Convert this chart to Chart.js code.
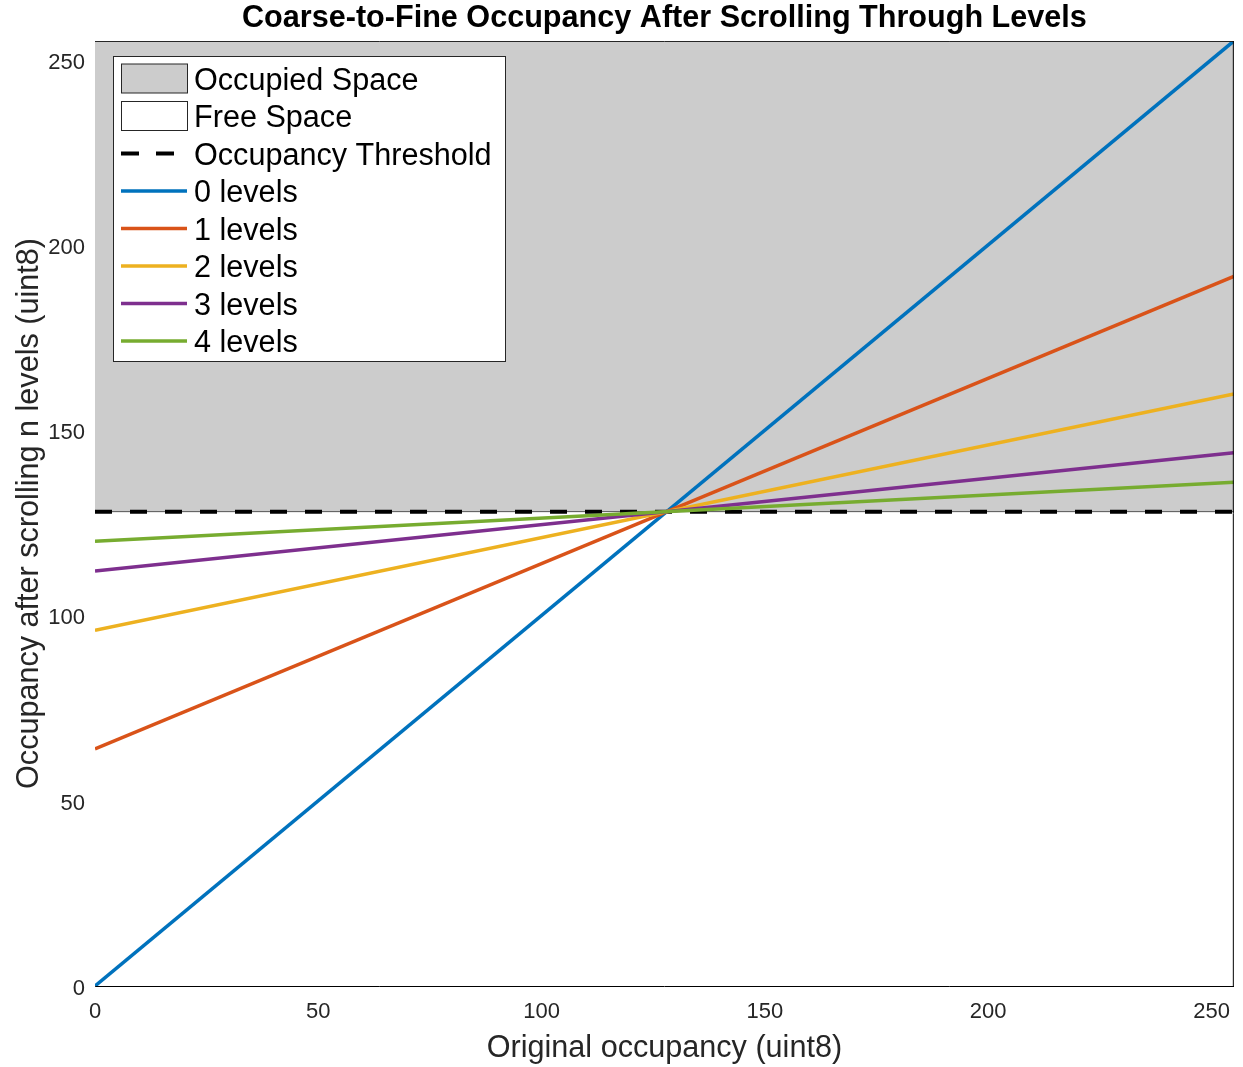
<!DOCTYPE html>
<html>
<head>
<meta charset="utf-8">
<script src="https://cdn.jsdelivr.net/npm/chart.js@4/dist/chart.umd.min.js"></script>
<style>
html,body{margin:0;padding:0;background:#fff;}
#wrap{width:1243px;height:1067px;}
</style>
</head>
<body>
<div id="wrap"><canvas id="c" width="1243" height="1067"></canvas></div>
<script>
// ---- data ----
const xValues = [0, 255];
const thresholdValues = [128, 128];
const levels0 = [0, 255];
const levels1 = [64, 191.5];
const levels2 = [96, 159.75];
const levels3 = [112, 143.9];
const levels4 = [120, 135.9];
const tickValues = [0, 50, 100, 150, 200, 250];
const seriesLabels = ['0 levels', '1 levels', '2 levels', '3 levels', '4 levels'];
const seriesColors = ['#0072BD', '#D95319', '#EDB120', '#7E2F8E', '#77AC30'];
const seriesValues = [levels0, levels1, levels2, levels3, levels4];

const FS = 30.6;
const FONT = 'Liberation Sans, Arial, Helvetica, sans-serif';

function pts(ys) { return xValues.map((x, i) => ({x: x, y: ys[i]})); }

const datasets = [
  {label: 'Occupied Space', data: pts(thresholdValues), fill: 'end', backgroundColor: '#cccccc',
   borderColor: '#555555', borderWidth: 1, pointRadius: 0, order: 20, legendKind: 'box'},
  {label: 'Free Space', data: pts(thresholdValues), fill: 'origin', backgroundColor: '#ffffff',
   borderColor: 'rgba(0,0,0,0)', borderWidth: 0, pointRadius: 0, order: 21, legendKind: 'box'},
  {label: 'Occupancy Threshold', data: pts(thresholdValues), fill: false, borderColor: '#000000',
   borderWidth: 4, borderDash: [17, 18], pointRadius: 0, order: 10, legendKind: 'dash'}
];
seriesValues.forEach((v, i) => {
  datasets.push({label: seriesLabels[i], data: pts(v), fill: false, borderColor: seriesColors[i],
    borderWidth: 3.5, pointRadius: 0, order: 5 - i, legendKind: 'line'});
});

const bgPlugin = {
  id: 'bg',
  beforeDraw(chart) {
    const ctx = chart.ctx;
    ctx.save(); ctx.fillStyle = '#fff'; ctx.fillRect(0, 0, chart.width, chart.height); ctx.restore();
  }
};

const decoPlugin = {
  id: 'deco',
  afterDraw(chart) {
    const ctx = chart.ctx;
    const a = chart.chartArea;
    ctx.save();
    // box top and right
    ctx.lineWidth = 1;
    ctx.strokeStyle = '#262626';
    ctx.beginPath(); ctx.moveTo(a.left, a.top + 0.5); ctx.lineTo(a.right, a.top + 0.5); ctx.stroke();
    ctx.strokeStyle = '#000';
    ctx.beginPath(); ctx.moveTo(a.right - 0.5, a.top); ctx.lineTo(a.right - 0.5, a.bottom); ctx.stroke();
    // title
    ctx.fillStyle = '#000';
    ctx.font = 'bold ' + FS + 'px ' + FONT;
    ctx.textAlign = 'center'; ctx.textBaseline = 'middle';
    ctx.fillText('Coarse-to-Fine Occupancy After Scrolling Through Levels', (a.left + a.right) / 2, 19);
    // legend
    const lx = 113, ly = 56, lw = 392, lh = 305;
    ctx.fillStyle = '#fff';
    ctx.fillRect(lx, ly, lw, lh);
    ctx.strokeStyle = '#262626'; ctx.lineWidth = 1;
    ctx.strokeRect(lx + 0.5, ly + 0.5, lw, lh);
    const rowY0 = 78.5, rowH = 37.5;
    ctx.font = FS + 'px ' + FONT;
    ctx.textAlign = 'left'; ctx.textBaseline = 'middle';
    chart.data.datasets.forEach((ds, i) => {
      const cy = rowY0 + i * rowH;
      if (ds.legendKind === 'box') {
        ctx.fillStyle = ds.backgroundColor;
        ctx.fillRect(121, cy - 14.5, 66, 29);
        ctx.strokeStyle = '#262626'; ctx.lineWidth = 1;
        ctx.strokeRect(121.5, cy - 14.5, 66, 29);
      } else {
        ctx.strokeStyle = ds.borderColor;
        ctx.lineWidth = ds.legendKind === 'dash' ? 4 : 3.5;
        ctx.setLineDash(ds.legendKind === 'dash' ? [18, 17] : []);
        ctx.beginPath(); ctx.moveTo(121, cy); ctx.lineTo(187, cy); ctx.stroke();
        ctx.setLineDash([]);
      }
      ctx.fillStyle = '#000';
      ctx.fillText(ds.label, 194, cy + 3);
    });
    ctx.restore();
  }
};

new Chart(document.getElementById('c'), {
  type: 'line',
  data: {datasets: datasets},
  options: {
    responsive: false,
    animation: false,
    devicePixelRatio: 1,
    layout: {padding: {top: 41, right: 7, left: 0, bottom: 0}},
    plugins: {legend: {display: false}, tooltip: {enabled: false}, title: {display: false}},
    scales: {
      x: {
        type: 'linear', min: 0, max: 255,
        grid: {display: false, drawTicks: false},
        border: {display: true, color: '#000', width: 1},
        afterBuildTicks(s) { s.ticks = tickValues.map(v => ({value: v})); },
        afterFit(s) { s.height = 81; },
        ticks: {color: '#262626', font: {family: FONT, size: 22}, padding: 13, maxRotation: 0, autoSkip: false},
        title: {display: true, text: 'Original occupancy (uint8)', color: '#262626',
                font: {family: FONT, size: FS}, padding: {top: 0, bottom: 0}}
      },
      y: {
        type: 'linear', min: 0, max: 255,
        grid: {display: false, drawTicks: false},
        border: {display: true, color: '#262626', width: 1},
        afterBuildTicks(s) { s.ticks = tickValues.map(v => ({value: v})); },
        afterFit(s) { s.width = 95; },
        ticks: {color: '#262626', font: {family: FONT, size: 22}, padding: 10, labelOffset: 3, autoSkip: false},
        title: {display: true, text: 'Occupancy after scrolling n levels (uint8)', color: '#262626',
                font: {family: FONT, size: FS}, padding: {top: 11.6, bottom: 0}}
      }
    }
  },
  plugins: [bgPlugin, decoPlugin]
});
</script>
</body>
</html>
